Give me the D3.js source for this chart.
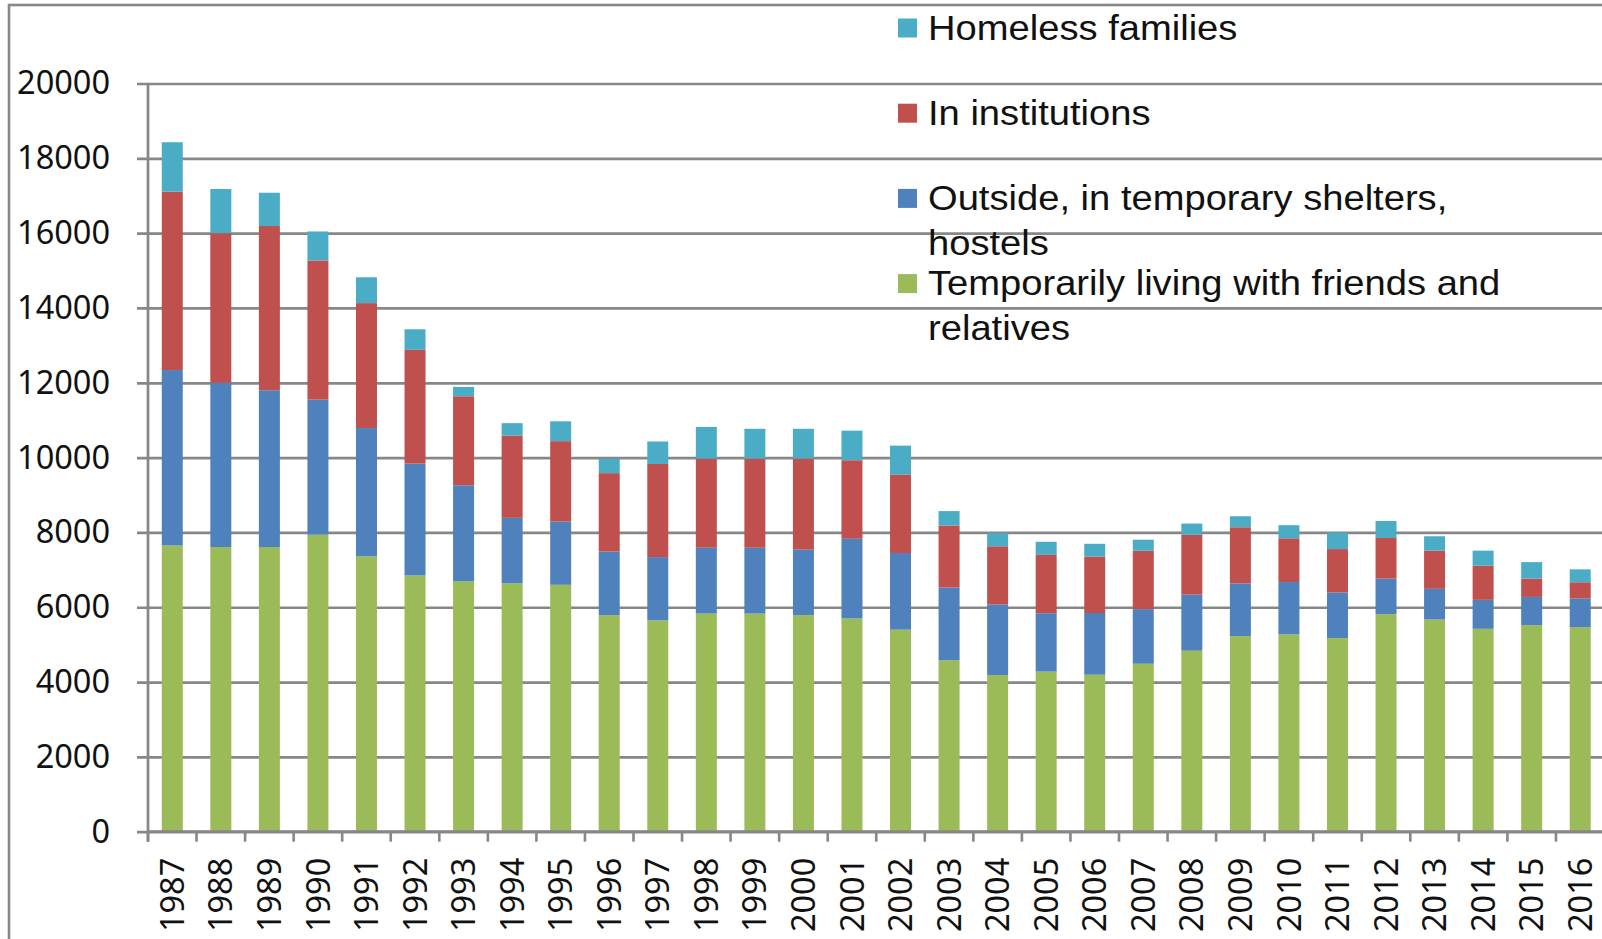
<!DOCTYPE html>
<html>
<head>
<meta charset="utf-8">
<script src="https://cdn.jsdelivr.net/npm/d3@7"></script>
<style>
    html, body { margin: 0; padding: 0; background: #fff; overflow: hidden; }
    svg { display: block; }
</style>
</head>
<body>
<div id="chart"></div>
<script>
// values
const years = ['1987', '1988', '1989', '1990', '1991', '1992', '1993', '1994', '1995', '1996',
    '1997', '1998', '1999', '2000', '2001', '2002', '2003', '2004', '2005', '2006',
    '2007', '2008', '2009', '2010', '2011', '2012', '2013', '2014', '2015', '2016'];

const withFriends = [7650, 7610, 7610, 7940, 7360, 6850, 6690, 6640, 6600, 5790,
    5650, 5830, 5830, 5790, 5700, 5400, 4580, 4185, 4280, 4196,
    4490, 4837, 5228, 5273, 5175, 5815, 5672, 5423, 5521, 5468];
const outsideShelters = [4690, 4390, 4190, 3610, 3430, 2990, 2570, 1750, 1690, 1700,
    1690, 1760, 1760, 1750, 2130, 2050, 1945, 1890, 1560, 1650,
    1460, 1500, 1410, 1400, 1220, 950, 820, 775, 755, 770];
const inInstitutions = [4770, 4000, 4390, 3720, 3340, 3040, 2380, 2200, 2150, 2095,
    2490, 2380, 2380, 2430, 2100, 2090, 1660, 1555, 1560, 1510,
    1560, 1600, 1500, 1170, 1160, 1085, 1020, 915, 490, 430];
const homelessFamilies = [1320, 1180, 890, 775, 690, 550, 250, 330, 530, 385,
    600, 850, 800, 800, 790, 780, 385, 350, 350, 340,
    295, 300, 295, 350, 435, 455, 385, 400, 440, 345];

const yTicks = [0, 2000, 4000, 6000, 8000, 10000, 12000, 14000, 16000, 18000, 20000];

// stack order bottom -> top
const seriesKeys = ['friends', 'outside', 'institutions', 'families'];
const seriesColors = ['#9BBB59', '#4F81BD', '#C0504D', '#4BACC6'];

// legend order top -> bottom, wrapped like the original
const legendKeys = ['families', 'institutions', 'outside', 'friends'];
const legendLines = [
    ['Homeless families'],
    ['In institutions'],
    ['Outside, in temporary shelters,', 'hostels'],
    ['Temporarily living with friends and', 'relatives'],
];

const width = 1602;
const height = 939;
const axisColor = '#878787';
const tickFont = 32.5;

const plot = { left: 148, top: 83.5, bottom: 831.7, step: 48.55 };
plot.right = plot.left + plot.step * years.length;

const svg = d3.select('#chart').append('svg')
    .attr('width', width)
    .attr('height', height)
    .style('background', '#fff');

// outer chart frame (runs off the right and bottom edge)
svg.append('rect')
    .attr('x', 9)
    .attr('y', 5)
    .attr('width', width + 20)
    .attr('height', height + 20)
    .attr('fill', 'none')
    .attr('stroke', axisColor)
    .attr('stroke-width', 2.6);

const table = years.map((year, i) => ({
    year: year,
    friends: withFriends[i],
    outside: outsideShelters[i],
    institutions: inInstitutions[i],
    families: homelessFamilies[i],
}));

const x = d3.scaleBand()
    .domain(years)
    .range([plot.left, plot.right])
    .paddingInner(0.5675)
    .paddingOuter(0.5675 / 2);

const y = d3.scaleLinear()
    .domain([0, 20000])
    .range([plot.bottom, plot.top]);

// gridlines + y axis
const yAxis = d3.axisLeft(y)
    .tickValues(yTicks)
    .tickSize(11)
    .tickPadding(27)
    .tickFormat(d3.format('d'));

const yAxisG = svg.append('g')
    .attr('transform', `translate(${plot.left},0)`)
    .call(yAxis);
yAxisG.select('.domain').remove();
yAxisG.selectAll('.tick line')
    .attr('x1', -11)
    .attr('x2', plot.right - plot.left)
    .attr('stroke', axisColor)
    .attr('stroke-width', 2.7);
yAxisG.selectAll('.tick text')
    .attr('fill', '#111')
    .style('font-family', '"Noto Sans", sans-serif')
    .style('font-size', tickFont + 'px');

// bars
const stack = d3.stack().keys(seriesKeys);
const layers = stack(table);

svg.append('g')
    .selectAll('g')
    .data(layers)
    .enter()
        .append('g')
            .attr('fill', (d, i) => seriesColors[i])
            .selectAll('rect')
            .data(d => d)
            .enter()
                .append('rect')
                    .attr('x', d => x(d.data.year))
                    .attr('y', d => y(d[1]))
                    .attr('width', x.bandwidth())
                    .attr('height', d => y(d[0]) - y(d[1]));

// x axis: ticks sit on the category boundaries
const xAxisG = svg.append('g')
    .attr('transform', `translate(0,${plot.bottom})`);

xAxisG.append('line')
    .attr('x1', plot.left)
    .attr('x2', plot.right)
    .attr('stroke', axisColor)
    .attr('stroke-width', 2.7);

xAxisG.selectAll('.boundary')
    .data(years)
    .enter()
        .append('line')
            .attr('class', 'boundary')
            .attr('x1', d => x(d) - x.step() * x.paddingOuter())
            .attr('x2', d => x(d) - x.step() * x.paddingOuter())
            .attr('y1', 0)
            .attr('y2', 10)
            .attr('stroke', axisColor)
            .attr('stroke-width', 2.6);

xAxisG.selectAll('.label')
    .data(years)
    .enter()
        .append('text')
            .attr('class', 'label')
            .attr('transform', d => `translate(${x(d) + x.bandwidth() / 2 + 11.6},26) rotate(-90)`)
            .attr('text-anchor', 'end')
            .attr('fill', '#111')
            .style('font-family', '"Noto Sans", sans-serif')
            .style('font-size', tickFont + 'px')
            .text(d => d);

// y axis line
svg.append('line')
    .attr('x1', plot.left)
    .attr('x2', plot.left)
    .attr('y1', plot.top)
    .attr('y2', plot.bottom + 10)
    .attr('stroke', axisColor)
    .attr('stroke-width', 2.7);

// legend, no background, gridlines run through it
const legend = svg.append('g').attr('class', 'legend');
const legendTop = 39.5;
const legendGap = 85.2;
const lineHeight = 45;

legendKeys.forEach((key, i) => {
    const baseline = legendTop + legendGap * i;
    const color = seriesColors[seriesKeys.indexOf(key)];

    legend.append('rect')
        .attr('x', 898)
        .attr('y', baseline - 21)
        .attr('width', 19)
        .attr('height', 19)
        .attr('fill', color);

    legendLines[i].forEach((line, j) => {
        legend.append('text')
            .attr('transform', `translate(928,${baseline + j * lineHeight}) scale(1.09,1)`)
            .attr('fill', '#111')
            .style('font-family', '"Liberation Sans", Arial, sans-serif')
            .style('font-size', '35px')
            .text(line);
    });
});
</script>
</body>
</html>
